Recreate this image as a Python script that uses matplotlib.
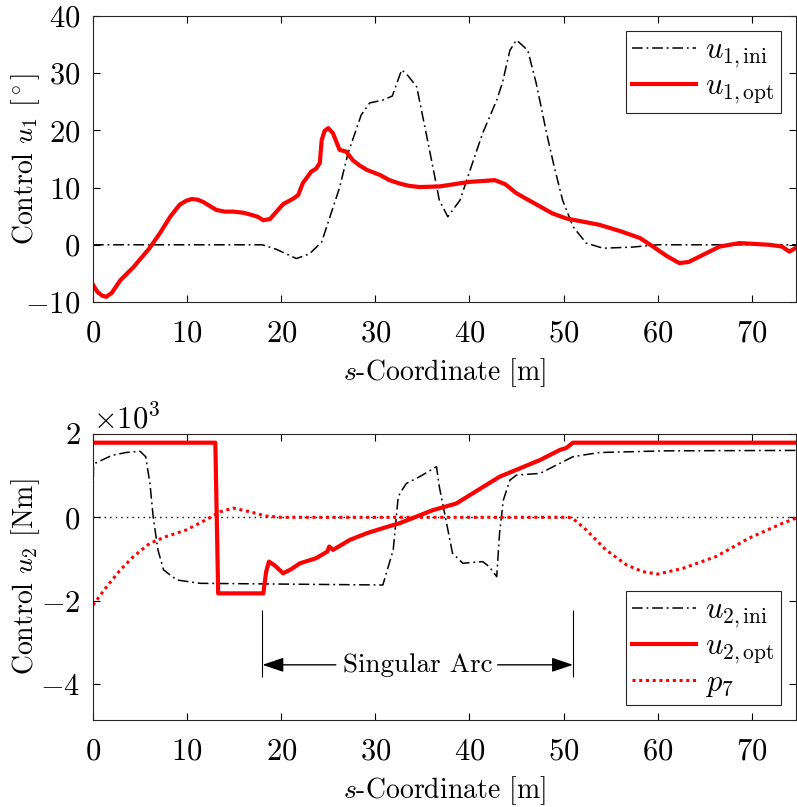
import matplotlib.pyplot as plt

plt.rcParams.update({
    'font.family': 'serif',
    'font.serif': ['cmr10'],
    'mathtext.fontset': 'cm',
    'axes.formatter.use_mathtext': True,
    'font.size': 20,
    'xtick.labelsize': 22,
    'ytick.labelsize': 22,
    'axes.linewidth': 0.8,
    'axes.edgecolor': '#262626',
    'xtick.direction': 'in',
    'ytick.direction': 'in',
    'xtick.top': True,
    'ytick.right': True,
    'xtick.major.size': 5,
    'ytick.major.size': 5,
    'xtick.major.pad': 13,
    'ytick.major.pad': 9,
    'axes.labelpad': 6,
})

# --- top panel: steering control u1 [deg] ---
s_u1_ini = [0, 18, 19.5, 21.6, 23, 24.3, 26.2, 27.1, 28.5, 29.4, 30.8, 31.8, 32.8,
            33.5, 34.4, 35.4, 36.1, 36.8, 37.7, 39.0, 40.2, 41.4, 42.9, 43.5, 44.3,
            45.0, 46.2, 47.1, 48.2, 49.0, 49.9, 51.0, 52.4, 54.2, 57.3, 60.0, 74.7]
u1_ini = [0, 0, -0.8, -2.4, -1.6, 0.5, 10, 16, 22.7, 24.8, 25.3, 26, 30.6,
          29.5, 27.6, 19.5, 13.7, 7.8, 4.9, 7.8, 13.7, 19.5, 25.3, 28.3, 34,
          35.8, 34, 28.2, 19.5, 13.7, 7.8, 3.2, 0.3, -0.6, -0.4, 0, 0]

s_u1_opt = [0, 0.5, 1.0, 1.4, 2.0, 2.9, 4.3, 6.0, 7.1, 8.2, 9.2, 9.9, 10.5, 11.1,
            11.7, 12.4, 13.1, 14.0, 14.9, 16.0, 16.7, 17.5, 18.1, 18.8, 19.5,
            20.2, 21.3, 21.8, 22.3, 23.2, 23.7, 24.1, 24.3, 24.6, 25.0, 25.5,
            26.2, 26.9, 27.6, 28.3, 29.1, 30.5, 31.5, 32.6, 33.6, 34.7, 36.8,
            40.0, 42.7, 43.8, 45.0, 47.5, 48.8, 50.3, 53.8, 56.0, 58.1, 59.5,
            61.0, 62.3, 63.3, 64.4, 66.6, 68.7, 71.9, 73.2, 74.0, 74.7]
u1_opt = [-7.0, -8.3, -8.9, -9.1, -8.4, -6.2, -3.9, -0.6, 2.0, 4.9, 7.0, 7.7, 8.0, 7.9,
          7.5, 6.8, 6.1, 5.8, 5.8, 5.6, 5.3, 4.9, 4.3, 4.5, 5.8,
          7.1, 8.1, 8.7, 10.8, 12.8, 13.3, 14.3, 18.3, 19.9, 20.4, 19.5,
          16.6, 16.3, 14.8, 13.9, 13.1, 12.2, 11.3, 10.7, 10.3, 10.1, 10.2,
          11.0, 11.3, 10.6, 9.0, 6.7, 5.5, 4.6, 3.5, 2.4, 1.2, -0.3,
          -2.0, -3.2, -3.0, -2.1, -0.3, 0.3, 0.0, -0.3, -1.2, -0.5]

# --- bottom panel: drive torque u2 [Nm] and costate p7 ---
s_u2_ini = [0, 0.05, 0.3, 2.0, 3.5, 5.0, 5.6, 6.05, 6.4, 6.9, 7.5, 8.9, 11.4,
            30.8, 31.9, 32.4, 32.6, 33.3, 34.7, 36.5, 36.8, 37.5, 38.2, 39.3,
            41.4, 42.1, 42.9, 43.2, 43.6, 44.3, 45.0, 47.5, 49.6, 51.0, 53.8,
            60.9, 74.7]
u2_ini = [0, 1250, 1300, 1480, 1550, 1580, 1450, 810, 0, -780, -1260, -1500, -1580,
          -1620, -780, 410, 570, 810, 970, 1210, 730, -60, -860, -1100,
          -1060, -1180, -1420, -380, 410, 890, 1010, 1050, 1290, 1450, 1550,
          1590, 1600]

s_u2_opt = [0, 13.0, 13.3, 18.1, 18.4, 18.7, 19.3, 20.2, 21.0, 22.0, 23.7, 24.9,
            25.1, 25.5, 27.3, 29.1, 30.8, 32.6, 36.1, 38.6, 43.2, 47.5, 49.6,
            50.3, 51.0, 74.7]
u2_opt = [1785, 1785, -1820, -1820, -1300, -1060, -1150, -1340, -1250, -1100,
          -980, -820, -700, -780, -540, -380, -260, -140, 170, 330, 970, 1370,
          1610, 1660, 1785, 1785]

s_p7 = [0, 1.45, 2.9, 4.3, 6.05, 7.8, 9.95, 12.0, 13.5, 14.9, 16.7, 18.4, 20.0,
        50.5, 51.0, 52.4, 54.5, 56.7, 58.4, 60.0, 62.7, 66.2, 69.7, 73.3, 74.7]
p7 = [-2100, -1660, -1260, -940, -620, -460, -300, -60, 130, 220, 130, 30, 0,
      0, -30, -300, -780, -1140, -1300, -1360, -1220, -940, -500, -140, -20]

fig = plt.figure(figsize=(7.97, 8.07), dpi=100)
ax1 = fig.add_axes([93 / 797, 1 - 302 / 807, 703 / 797, 286 / 807])
ax2 = fig.add_axes([93 / 797, 1 - 720 / 807, 703 / 797, 286.3 / 807])

dashdot = (7, 2.5, 1.2, 2.5)
leg_kw = dict(fancybox=False, edgecolor='#262626', framealpha=1, fontsize=22,
              handlelength=2.1, handletextpad=0.3, borderpad=0.2,
              labelspacing=0.1, borderaxespad=0.5)

ax1.plot(s_u1_ini, u1_ini, color='k', lw=1.1, dashes=dashdot, label=r'$u_{1,\mathrm{ini}}$')
ax1.plot(s_u1_opt, u1_opt, color='#ff0000', lw=3, label=r'$u_{1,\mathrm{opt}}$')
ax1.set_xlim(0, 74.7)
ax1.set_ylim(-10, 40)
ax1.set_yticks([-10, 0, 10, 20, 30, 40])
ax1.set_xticks(range(0, 80, 10))
ax1.set_xlabel(r'$s$-Coordinate [m]')
ax1.set_ylabel(r'Control $u_1$ $[^\circ]$')
ax1.yaxis.set_label_coords(-0.072, 0.5)
ax1.legend(loc='upper right', **leg_kw).get_frame().set_linewidth(0.8)

ax2.axhline(0, color='k', lw=1, ls=(0, (1, 3)))
ax2.plot(s_u2_ini, u2_ini, color='k', lw=1.1, dashes=dashdot, label=r'$u_{2,\mathrm{ini}}$')
ax2.plot(s_u2_opt, u2_opt, color='#ff0000', lw=3, label=r'$u_{2,\mathrm{opt}}$')
ax2.plot(s_p7, p7, color='#ff0000', lw=2.2, ls=(0, (1, 1.2)), label=r'$p_7$')
ax2.set_xlim(0, 74.7)
ax2.set_ylim(-4850, 2000)
ax2.set_yticks([-4000, -2000, 0, 2000])
ax2.set_xticks(range(0, 80, 10))
ax2.ticklabel_format(axis='y', style='sci', scilimits=(3, 3), useMathText=True)
ax2.set_xlabel(r'$s$-Coordinate [m]')
ax2.set_ylabel(r'Control $u_2$ [Nm]')
ax2.yaxis.set_label_coords(-0.072, 0.5)
ax2.legend(loc='lower right', **leg_kw).get_frame().set_linewidth(0.8)

# singular arc marker
ax2.vlines([18, 51], -3810, -2230, color='k', lw=0.8)
ax2.text(34.5, -3530, 'Singular Arc', ha='center', va='center', fontsize=19.5)
arrow = dict(arrowstyle='-|>,head_length=0.65,head_width=0.22', color='k', lw=1,
             shrinkA=0, shrinkB=0)
ax2.annotate('', xy=(18, -3530), xytext=(25.8, -3530), arrowprops=arrow)
ax2.annotate('', xy=(51, -3530), xytext=(43.0, -3530), arrowprops=arrow)

fig.savefig('out.png', dpi=100)
